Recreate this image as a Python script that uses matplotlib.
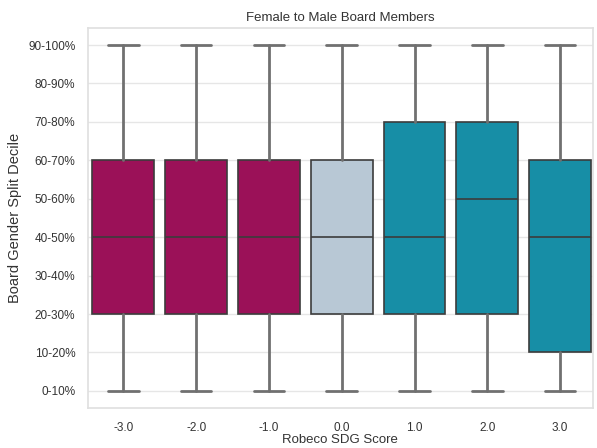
import matplotlib
matplotlib.use("Agg")
import matplotlib.pyplot as plt
import seaborn as sns

sns.set_theme(style="whitegrid")
plt.rcParams['font.family'] = ['Liberation Sans', 'DejaVu Sans']

# Robeco SDG score categories and box statistics (index into decile labels)
scores = ["-3.0", "-2.0", "-1.0", "0.0", "1.0", "2.0", "3.0"]
whisker_low = [0, 0, 0, 0, 0, 0, 0]
q1 = [2, 2, 2, 2, 2, 2, 1]
median = [4, 4, 4, 4, 4, 5, 4]
q3 = [6, 6, 6, 6, 7, 7, 6]
whisker_high = [9, 9, 9, 9, 9, 9, 9]
deciles = ["0-10%", "10-20%", "20-30%", "30-40%", "40-50%",
           "50-60%", "60-70%", "70-80%", "80-90%", "90-100%"]
colors = ["#9b1158", "#9b1158", "#9b1158", "#b8c8d5", "#178ea6", "#178ea6", "#178ea6"]

fig = plt.figure(figsize=(5.97, 4.48), dpi=100)
ax = fig.add_axes([0.147, 0.089, 0.846, 0.849])

stats = []
for i, s in enumerate(scores):
    stats.append(dict(label=s, whislo=whisker_low[i], q1=q1[i], med=median[i],
                      q3=q3[i], whishi=whisker_high[i], fliers=[]))

bp = ax.bxp(stats, positions=range(len(scores)), widths=0.85, patch_artist=True,
            showfliers=False,
            boxprops=dict(edgecolor="#3c3c3c", linewidth=1.2),
            medianprops=dict(color="#3c3c3c", linewidth=1.2),
            whiskerprops=dict(color="#707070", linewidth=2),
            capprops=dict(color="#707070", linewidth=2),
            capwidths=0.42)
for patch, c in zip(bp["boxes"], colors):
    patch.set_facecolor(c)

ax.set_xlim(-0.49, 6.45)
ax.set_ylim(-0.45, 9.45)
ax.set_yticks(range(len(deciles)))
ax.set_yticklabels(deciles)
ax.set_xticks(range(len(scores)))
ax.set_xticklabels(scores)
ax.tick_params(labelsize=8.5, colors="#333333", pad=3)
ax.tick_params(axis="x", pad=4)
ax.grid(axis="x", visible=False)
ax.grid(axis="y", color="#e6e6e6", linewidth=1)
for sp in ax.spines.values():
    sp.set_color("#e0e0e0")

ax.set_title("Female to Male Board Members", fontsize=9.5, color="#333333", pad=5)
ax.set_xlabel("Robeco SDG Score", fontsize=9.5, color="#333333", labelpad=0)
ax.set_ylabel("Board Gender Split Decile", fontsize=10.5, color="#333333", labelpad=4)

fig.savefig("out.png", dpi=100)
